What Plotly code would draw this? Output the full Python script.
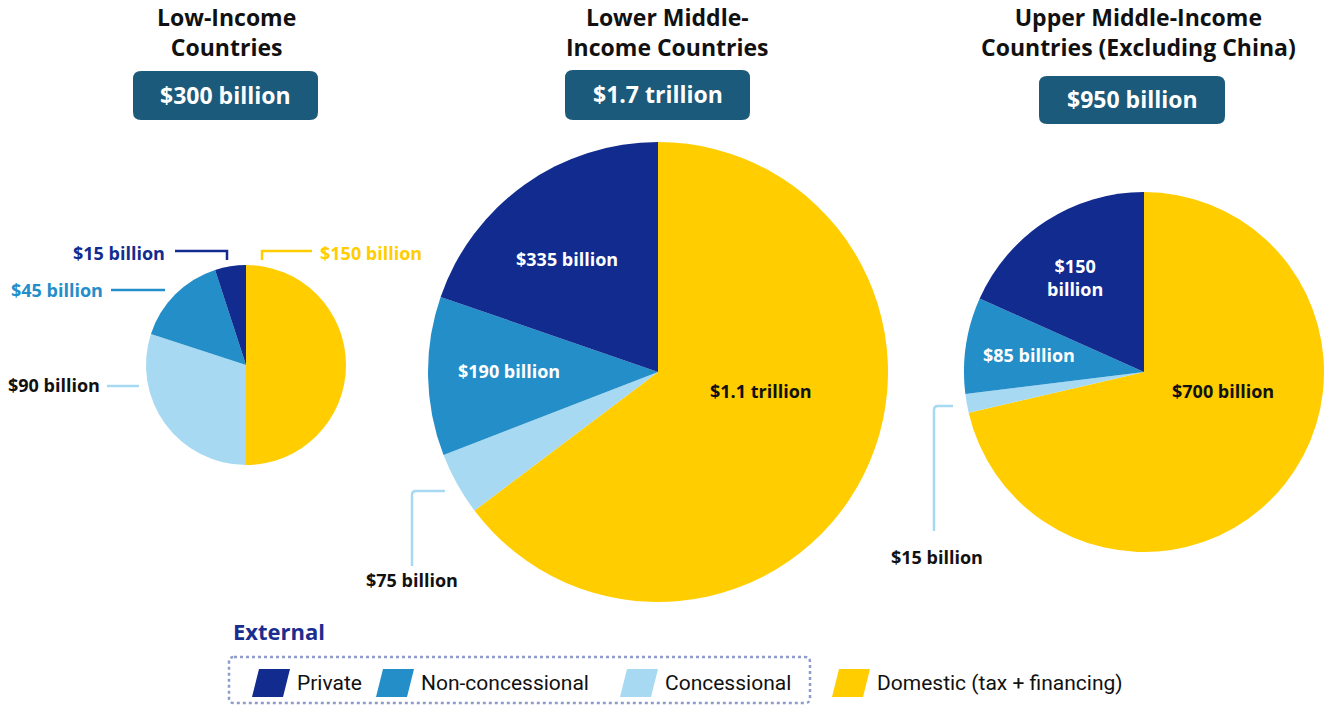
import plotly.graph_objects as go

W, H = 1324, 705

# data
groups = ["Low-Income<br>Countries", "Lower Middle-<br>Income Countries",
          "Upper Middle-Income<br>Countries (Excluding China)"]
totals = ["$300 billion", "$1.7 trillion", "$950 billion"]
sources = ["Domestic (tax + financing)", "Concessional", "Non-concessional", "Private"]
# slice sizes as drawn (billions)
lic_values = [150, 90, 45, 15]
lmic_values = [1100, 75, 190, 335]
umic_values = [678, 16, 82, 174]
lic_labels = ["$150 billion", "$90 billion", "$45 billion", "$15 billion"]
lmic_labels = ["$1.1 trillion", "$75 billion", "$190 billion", "$335 billion"]
umic_labels = ["$700 billion", "$15 billion", "$85 billion", "$150<br>billion"]

colors = {"Domestic (tax + financing)": "#ffcd00", "Concessional": "#a7daf2",
          "Non-concessional": "#248ec9", "Private": "#112b8f"}
box_color = "#1b5a7a"
FONT = "Open Sans"


def dom(cx, cy, r):
    # pixel centre/radius -> paper domain
    x0, x1 = max(cx - r, 0), min(cx + r, W)
    return dict(x=[x0 / W, x1 / W], y=[1 - (cy + r) / H, 1 - (cy - r) / H])


def rrect(x0, y0, x1, y1, r):
    return (f"M{x0+r},{y0} L{x1-r},{y0} Q{x1},{y0} {x1},{y0+r} L{x1},{y1-r} "
            f"Q{x1},{y1} {x1-r},{y1} L{x0+r},{y1} Q{x0},{y1} {x0},{y1-r} "
            f"L{x0},{y0+r} Q{x0},{y0} {x0+r},{y0} Z")


fig = go.Figure()

pies = [(lic_values, (246, 365, 100)), (lmic_values, (658, 372, 230)),
        (umic_values, (1145, 372, 181))]
for vals, (cx, cy, r) in pies:
    fig.add_trace(go.Pie(values=vals, labels=sources, sort=False, direction="clockwise",
                         rotation=0, textinfo="none", showlegend=False,
                         marker=dict(colors=[colors[s] for s in sources], line=dict(width=0)),
                         domain=dom(cx, cy, r), hoverinfo="label+value"))

# invisible pixel axes for overlays
fig.update_layout(
    xaxis=dict(range=[0, W], visible=False, fixedrange=True, domain=[0, 1]),
    yaxis=dict(range=[H, 0], visible=False, fixedrange=True, domain=[0, 1]),
)

ann = []
shapes = []

# titles and total boxes
title_x = [226, 667, 1138]
box_pos = [(133, 71, 318, 120), (565, 70, 750, 120), (1039, 76, 1225, 124)]
for i in range(3):
    ann.append(dict(x=title_x[i], y=32, text=f"<b>{groups[i]}</b>", showarrow=False,
                    font=dict(family=FONT, size=23, color="#111111")))
    x0, y0, x1, y1 = box_pos[i]
    shapes.append(dict(type="path", path=rrect(x0, y0, x1, y1, 8), fillcolor=box_color,
                       line=dict(width=0), xref="x", yref="y", layer="above"))
    ann.append(dict(x=(x0 + x1) / 2, y=(y0 + y1) / 2 - 1, text=f"<b>{totals[i]}</b>",
                    showarrow=False, font=dict(family=FONT, size=23, color="white")))


def label(x, y, text, color, anchor="center", size=18):
    ann.append(dict(x=x, y=y, text=f"<b>{text}</b>", showarrow=False, xanchor=anchor,
                    font=dict(family=FONT, size=size, color=color)))


def line(path, color):
    shapes.append(dict(type="path", path=path, line=dict(color=color, width=2.5),
                       xref="x", yref="y", layer="above"))


# low income labels
label(167, 253, lic_labels[3], colors["Private"], "right")
line("M175,251 L227,251 L227,260", colors["Private"])
label(105, 290, lic_labels[2], colors["Non-concessional"], "right")
line("M111,290 L165,290", colors["Non-concessional"])
label(102, 385, lic_labels[1], "#111111", "right")
line("M107,386 L139,386", colors["Concessional"])
label(318, 253, lic_labels[0], colors["Domestic (tax + financing)"], "left")
line("M262,260 L262,251 L312,251", colors["Domestic (tax + financing)"])

# lower middle income labels
label(567, 259, lmic_labels[3], "white")
label(509, 371, lmic_labels[2], "white")
label(761, 391, lmic_labels[0], "#111111")
label(412, 580, lmic_labels[1], "#111111")
line("M445,491 L416,491 Q412,491 412,495 L412,566", colors["Concessional"])

# upper middle income labels
label(1075, 277, umic_labels[3], "white")
label(1029, 355, umic_labels[2], "white")
label(1223, 391, umic_labels[0], "#111111")
label(937, 557, umic_labels[1], "#111111")
line("M953,406 L938,406 Q934,406 934,410 L934,531", colors["Concessional"])

# legend
ann.append(dict(x=231, y=631, text="<b>External</b>", showarrow=False, xanchor="left",
                font=dict(family=FONT, size=22, color="#1b2e8f")))
shapes.append(dict(type="path", path=rrect(229, 657, 810, 703, 5), xref="x", yref="y",
                   line=dict(color="#8f9cc9", width=2.5, dash="dot"), layer="above"))
legend_x = [252, 376, 620, 832]
for lx, s in zip(legend_x, ["Private", "Non-concessional", "Concessional",
                            "Domestic (tax + financing)"]):
    shapes.append(dict(type="path", xref="x", yref="y", fillcolor=colors[s],
                       line=dict(width=0), layer="above",
                       path=f"M{lx+7},669 L{lx+38},669 L{lx+31},697 L{lx},697 Z"))
    ann.append(dict(x=lx + 43, y=683, text=s, showarrow=False, xanchor="left",
                    font=dict(family="Roboto", size=21, color="#111111")))

fig.update_layout(width=W, height=H, margin=dict(l=0, r=0, t=0, b=0),
                  paper_bgcolor="white", plot_bgcolor="white",
                  annotations=ann, shapes=shapes)

# drop the default page margin so the figure fills the window
fig.write_html("out.html", config={"displayModeBar": False},
               post_script="document.body.style.margin='0';document.body.style.overflow='hidden';")
